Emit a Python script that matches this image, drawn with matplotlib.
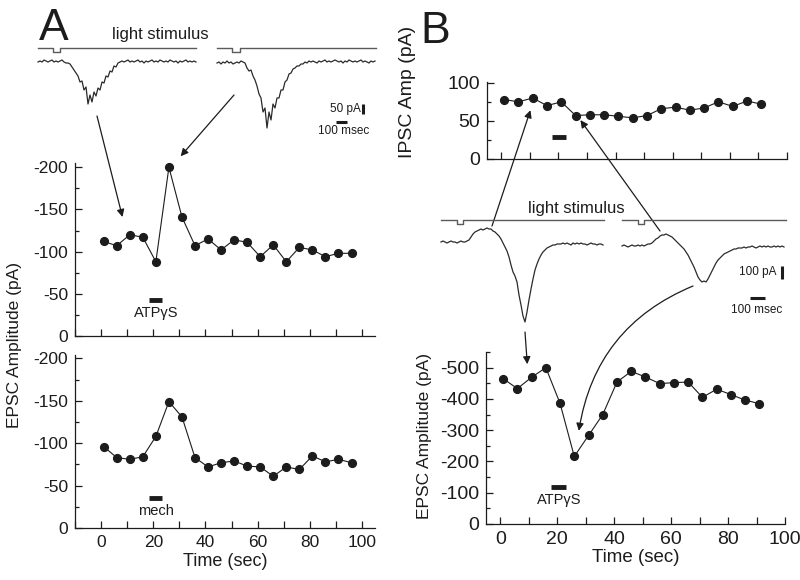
import numpy as np
import matplotlib
matplotlib.use("Agg")
import matplotlib.pyplot as plt
from matplotlib.ticker import MultipleLocator

plt.rcParams['font.family'] = ['Liberation Sans', 'DejaVu Sans']
plt.rcParams['axes.unicode_minus'] = False

# ---------------- data ----------------
time_A = [1, 6, 11, 16, 21, 26, 31, 36, 41, 46, 51, 56, 61, 66, 71, 76, 81, 86, 91, 96]
epsc_A_atp = [-112, -107, -120, -117, -88, -200, -141, -107, -115, -102,
              -114, -111, -94, -108, -88, -105, -102, -94, -98, -98]
epsc_A_mech = [-96, -83, -81, -84, -108, -149, -131, -83, -72, -77,
               -79, -73, -72, -61, -72, -69, -85, -78, -81, -77]

time_B = [1, 6, 11, 16, 21, 26, 31, 36, 41, 46, 51, 56, 61, 66, 71, 76, 81, 86, 91]
ipsc_B = [78, 75, 80, 70, 75, 57, 58, 58, 56, 54, 57, 66, 68, 64, 67, 75, 69, 76, 72]
epsc_B = [-465, -433, -469, -500, -386, -216, -283, -350, -454, -488,
          -470, -449, -452, -454, -405, -431, -414, -396, -385]

# drug application bars (sec)
atp_bar_A = [18.5, 23.5]
mech_bar_A = [18.5, 23.5]
atp_bar_B_ipsc = [17.8, 22.5]
atp_bar_B_epsc = [18, 23]

# example current traces (pA), sampled every dt ms
dt_A = 18
trace_A1 = ([0, 5, 0, 10, 5, 0, 5, 10, 0, 5, 0, 5, 10, 0, -5] +
            [-5, -10, -25, -40, -55, -70, -100, -95, -140, -125, -210, -165, -200, -150,
             -170, -130, -140, -100, -105, -70, -75, -45, -50, -20, -25, -5, 0] +
            [5, 0, 5, 10, 0, 5, 0, 5, 10, 0, 5, -5, 5, 0, 5, 10, 0, 5, 0, 10, 5, 0, 5, 0,
             10, 5, 0, 5, -5, 5, 0, 5, 10, 0, 5, 0, 5, 0])
trace_A2 = ([-5, 0, -10, 0, -5, 5, -5, 0, -10, -5, 0, -5, 5, 0, -5] +
            [-30, -45, -40, -70, -90, -120, -160, -180, -250, -230, -330, -250, -290, -210,
             -230, -180, -180, -140, -140, -100, -90, -60, -55, -35, -30, -20, -20, -10, -10,
             0, -5, 5] +
            [0, 5, 0, -5, 5, 0, 5, 10, 0, 5, 0, 5, 10, 5, 0, 5, -5, 5, 0, 10, 5, 0, 5, 0, 5,
             10, 0, 5, 0, -5, 5, 0, 5])
dt_B = 14
trace_B1 = ([0, 8, 0, -8, 0, 8, 0, 0, -8, 0, 8, 0, 0, 8] +
            [16, 40, 64, 80, 88, 96, 104, 96, 104, 112, 104, 104, 88, 80] +
            [64, 48, 24, -8, -40, -72, -120, -184, -240, -272, -320, -424, -504, -592, -640] +
            [-560, -464, -376, -296, -224, -176, -136, -104, -80, -64, -48, -40, -32, -24,
             -24, -16, -16] +
            [-16, -8, -16, -8, -16, -24, -8, -16, -8, -16, -8, -16, -16, -24, -16, -8, -16,
             -16, -24, -16, -16, -24])
trace_B2 = ([0, 8, 0, -8, 0, 8, 0, 0, 8, 0, 8, 0, 8, 16, 16] +
            [24, 40, 56, 64, 80, 88, 88, 96, 88, 80, 72, 56, 40] +
            [24, 8, -8, -24, -48, -72, -104, -136, -168, -208, -248, -272, -288] +
            [-280, -288, -264, -232, -200, -168, -136, -112, -96, -80, -64, -56, -48, -40,
             -32, -24, -24, -16, -16] +
            [-16, -8, -16, -8, -8, 0, -8, -16, -8, 0, -8, 0, -8, 0, -8, -8, 0, -8, 0, -8, 0, -8])

# light stimulus timing (ms from sweep start)
stim_A = {'sweep': [1422, 1431], 'on': [132, 135], 'off': [198, 207]}
stim_B = {'sweep': [1141, 1148], 'on': [112, 112], 'off': [154, 154]}

# ---------------- figure ----------------
W, H = 800, 580
fig = plt.figure(figsize=(W / 100, H / 100), dpi=100)
fig.patch.set_facecolor('white')
INK = '#1c1c1c'


def rect(l, t, r, b):
    return [l / W, 1 - b / H, (r - l) / W, (b - t) / H]


def fpx(x, y):
    return x / W, 1 - y / H


def style(ax, xlim, ylim, ymaj, ymin, xlabels=True, fs=12):
    ax.set_xlim(xlim)
    ax.set_ylim(ylim)
    for s in ('top', 'right'):
        ax.spines[s].set_visible(False)
    for s in ('left', 'bottom'):
        ax.spines[s].set_linewidth(0.9)
        ax.spines[s].set_color(INK)
    ax.xaxis.set_major_locator(MultipleLocator(20))
    ax.xaxis.set_minor_locator(MultipleLocator(10))
    ax.yaxis.set_major_locator(MultipleLocator(ymaj))
    ax.yaxis.set_minor_locator(MultipleLocator(ymin))
    ax.tick_params(which='major', direction='in', length=5, width=0.9, colors=INK,
                   labelsize=fs, pad=5)
    ax.tick_params(which='minor', direction='in', length=3, width=0.9, colors=INK)
    ax.tick_params(axis='x', which='minor', length=5)
    if not xlabels:
        ax.tick_params(axis='x', labelbottom=False)
    ax.patch.set_alpha(0)


def points(ax, x, y):
    ax.plot(x, y, '-', color=INK, lw=0.8, zorder=2)
    ax.plot(x, y, 'o', color=INK, ms=5.6, zorder=3, clip_on=False)


def bar(ax, xs, y):
    ax.plot(xs, [y, y], color=INK, lw=3.5, solid_capstyle='butt')


# Panel A axes
axA1 = fig.add_axes(rect(75, 163, 375, 336))
style(axA1, (-10, 105), (0, -205), 50, 25, xlabels=False, fs=12.5)
points(axA1, time_A, epsc_A_atp)
bar(axA1, atp_bar_A, -43)
axA1.text(21, -27, 'ATPγS', ha='center', va='center', fontsize=10.5, color=INK)

axA2 = fig.add_axes(rect(75, 355, 375, 528))
style(axA2, (-10, 105), (0, -204), 50, 25, fs=12.5)
points(axA2, time_A, epsc_A_mech)
bar(axA2, mech_bar_A, -35)
axA2.text(21, -20, 'mech', ha='center', va='center', fontsize=10.5, color=INK)
axA2.set_xlabel('Time (sec)', fontsize=13, color=INK, labelpad=2)

# Panel B axes
axB1 = fig.add_axes(rect(487, 82, 787, 159))
style(axB1, (-5, 100), (0, 101), 50, 25, xlabels=False, fs=14)
points(axB1, time_B, ipsc_B)
bar(axB1, atp_bar_B_ipsc, 28.5)

axB2 = fig.add_axes(rect(486, 352, 785, 524))
style(axB2, (-5, 100), (0, -550), 100, 50, fs=14)
points(axB2, time_B, epsc_B)
bar(axB2, atp_bar_B_epsc, -117)
axB2.text(20.6, -76, 'ATPγS', ha='center', va='center', fontsize=10.5, color=INK)
axB2.set_xlabel('Time (sec)', fontsize=13.5, color=INK, labelpad=1)


# ---- trace insets ----
def stim_line(ax, t0, sweep, on, off, level, depth):
    ts = [t0, t0 + on, t0 + on, t0 + off, t0 + off, t0 + sweep]
    ys = [level, level, level - depth, level - depth, level, level]
    ax.plot(ts, ys, color='#5a5a5a', lw=1.0)


axAt = fig.add_axes(rect(30, 40, 385, 135))
axAt.set_xlim(0, 3195)
axAt.set_ylim(-365, 110)
axAt.axis('off')
offA = [72, 1683]
for k, tr in enumerate([trace_A1, trace_A2]):
    t = offA[k] + np.arange(len(tr)) * dt_A
    axAt.plot(t, tr, color='#2a2a2a', lw=0.9)
    stim_line(axAt, offA[k], stim_A['sweep'][k], stim_A['on'][k], stim_A['off'][k], 70, 20)
axAt.plot([3001, 3001], [-210, -260], color=INK, lw=2.2, solid_capstyle='butt')
axAt.plot([2751, 2851], [-301, -301], color=INK, lw=2.2, solid_capstyle='butt')
axAt.text(2975, -235, '50 pA', ha='right', va='center', fontsize=8.5, color=INK)
axAt.text(2825, -345, '100 msec', ha='center', va='center', fontsize=8.5, color=INK)

axBt = fig.add_axes(rect(430, 205, 795, 335))
axBt.set_xlim(0, 2555)
axBt.set_ylim(-744, 296)
axBt.axis('off')
offB = [77, 1344]
baseB = [0, -32]
for k, tr in enumerate([trace_B1, trace_B2]):
    t = offB[k] + np.arange(len(tr)) * dt_B
    axBt.plot(t, np.array(tr) + baseB[k], color='#2a2a2a', lw=0.9)
    stim_line(axBt, offB[k], stim_B['sweep'][k], stim_B['on'][k], stim_B['off'][k], 176, 32)
axBt.plot([2464, 2464], [-192, -296], color=INK, lw=2.2, solid_capstyle='butt')
axBt.plot([2240, 2345], [-448, -448], color=INK, lw=2.2, solid_capstyle='butt')
axBt.text(2429, -244, '100 pA', ha='right', va='center', fontsize=8.5, color=INK)
axBt.text(2289, -544, '100 msec', ha='center', va='center', fontsize=8.5, color=INK)

# ---- arrows ----
ap = dict(arrowstyle='-|>', color=INK, lw=0.9, mutation_scale=11, shrinkA=0, shrinkB=0)
axA1.annotate('', xy=(8.2, -141), xytext=(603, -270), textcoords=axAt.transData,
              arrowprops=ap, annotation_clip=False)
axA1.annotate('', xy=(30.5, -213), xytext=(1836, -165), textcoords=axAt.transData,
              arrowprops=ap, annotation_clip=False)
axB1.annotate('', xy=(10.2, 64), xytext=(434, 128), textcoords=axBt.transData,
              arrowprops=ap, annotation_clip=False)
axB1.annotate('', xy=(27.7, 51), xytext=(1610, 88), textcoords=axBt.transData,
              arrowprops=ap, annotation_clip=False)
axB2.annotate('', xy=(9.5, -511), xytext=(665, -720), textcoords=axBt.transData,
              arrowprops=ap, annotation_clip=False)
ap2 = dict(ap, connectionstyle='arc3,rad=0.28')
axB2.annotate('', xy=(27.6, -298), xytext=(1841, -352), textcoords=axBt.transData,
              arrowprops=ap2, annotation_clip=False)

# ---- texts ----
fig.text(*fpx(39, 40), 'A', fontsize=32, color=INK, va='baseline', ha='left')
fig.text(*fpx(420, 43), 'B', fontsize=32, color=INK, va='baseline', ha='left')
fig.text(*fpx(160, 34), 'light stimulus', fontsize=12, color=INK, ha='center', va='center')
fig.text(*fpx(576, 208), 'light stimulus', fontsize=12, color=INK, ha='center', va='center')
fig.text(*fpx(15, 345), 'EPSC Amplitude (pA)', rotation=90, fontsize=12.5, color=INK,
         ha='center', va='center')
fig.text(*fpx(424, 436), 'EPSC Amplitude (pA)', rotation=90, fontsize=12.5, color=INK,
         ha='center', va='center')
fig.text(*fpx(408, 92), 'IPSC Amp (pA)', rotation=90, fontsize=14, color=INK,
         ha='center', va='center')

fig.savefig('out.png', dpi=100)
